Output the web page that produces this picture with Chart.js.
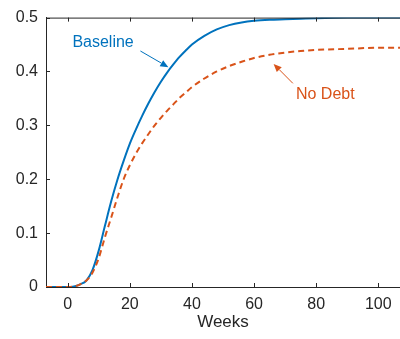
<!DOCTYPE html>
<html>
<head>
<meta charset="utf-8">
<script src="https://cdn.jsdelivr.net/npm/chart.js@4.4.1/dist/chart.umd.min.js"></script>
<style>
  html, body { margin: 0; padding: 0; background: #fff; }
</style>
</head>
<body>
<canvas id="chart1" width="400" height="339"></canvas>
<script>
// --- data ---
const weeks    = [-7, -4, -2, 0, 2, 4, 6, 8, 10, 12, 14, 16, 18, 20, 22, 24, 26, 28, 30, 32, 34, 36, 38, 40, 44, 48, 52, 56, 60, 65, 70, 75, 80, 90, 100, 107];
const baseline = [0, 0, 0, 0, 0.001, 0.005, 0.012, 0.032, 0.068, 0.114, 0.159, 0.199, 0.234, 0.266, 0.293, 0.318, 0.341, 0.362, 0.381, 0.398, 0.413, 0.427, 0.439, 0.45, 0.466, 0.478, 0.486, 0.491, 0.494, 0.496, 0.497, 0.498, 0.499, 0.5, 0.5, 0.5];
const noDebt   = [0, 0, 0, 0, 0.001, 0.005, 0.012, 0.027, 0.054, 0.093, 0.129, 0.166, 0.2, 0.226, 0.248, 0.267, 0.284, 0.3, 0.314, 0.327, 0.339, 0.351, 0.361, 0.371, 0.387, 0.4, 0.41, 0.418, 0.425, 0.431, 0.435, 0.438, 0.44, 0.442, 0.444, 0.444];
const xTicks = [0, 20, 40, 60, 80, 100];
const yTicks = [0, 0.1, 0.2, 0.3, 0.4, 0.5];

const BLUE = '#0072BD';
const ORANGE = '#D95319';
const AXIS = '#262626';
const FONT = '"Liberation Sans", Arial, Helvetica, sans-serif';

// text labels with arrows, in data coordinates (text anchored at its baseline)
const notes = [
  { text: 'Baseline', color: BLUE,   at: [1.5, 0.446],  from: [23.4, 0.438], to: [32.4, 0.408] },
  { text: 'No Debt',  color: ORANGE, at: [73.5, 0.349], from: [72.5, 0.378], to: [66.3, 0.414] }
];

// box top edge and inward tick marks
const boxTicks = {
  id: 'boxTicks',
  afterDraw(chart) {
    const { ctx, chartArea: a, scales: { x, y } } = chart;
    ctx.save();
    ctx.strokeStyle = AXIS;
    ctx.lineWidth = 1;
    ctx.beginPath();
    ctx.moveTo(a.left, a.top + 0.5);
    ctx.lineTo(a.right, a.top + 0.5);
    x.ticks.forEach(t => {
      const px = Math.round(x.getPixelForValue(t.value)) + 0.5;
      ctx.moveTo(px, a.bottom);
      ctx.lineTo(px, a.bottom - 4);
      ctx.moveTo(px, a.top);
      ctx.lineTo(px, a.top + 4);
    });
    y.ticks.forEach(t => {
      const py = Math.round(y.getPixelForValue(t.value)) + 0.5;
      ctx.moveTo(a.left, py);
      ctx.lineTo(a.left + 4, py);
    });
    ctx.stroke();
    ctx.restore();
  }
};

const arrowNotes = {
  id: 'arrowNotes',
  afterDraw(chart) {
    const { ctx, scales: { x, y } } = chart;
    ctx.save();
    notes.forEach(n => {
      ctx.fillStyle = n.color;
      ctx.strokeStyle = n.color;
      ctx.font = '16px ' + FONT;
      ctx.textAlign = 'left';
      ctx.textBaseline = 'alphabetic';
      ctx.fillText(n.text, x.getPixelForValue(n.at[0]), y.getPixelForValue(n.at[1]));

      const x0 = x.getPixelForValue(n.from[0]), y0 = y.getPixelForValue(n.from[1]);
      const x1 = x.getPixelForValue(n.to[0]),   y1 = y.getPixelForValue(n.to[1]);
      const ang = Math.atan2(y1 - y0, x1 - x0);
      const len = 8, half = 3.5;
      const bx = x1 - len * Math.cos(ang), by = y1 - len * Math.sin(ang);
      ctx.lineWidth = 1;
      ctx.beginPath();
      ctx.moveTo(x0, y0);
      ctx.lineTo(bx, by);
      ctx.stroke();
      ctx.beginPath();
      ctx.moveTo(x1, y1);
      ctx.lineTo(bx + half * Math.sin(ang), by - half * Math.cos(ang));
      ctx.lineTo(bx - half * Math.sin(ang), by + half * Math.cos(ang));
      ctx.closePath();
      ctx.fill();
    });
    ctx.restore();
  }
};

const whiteBg = {
  id: 'whiteBg',
  beforeDraw(chart) {
    const { ctx, width, height } = chart;
    ctx.save();
    ctx.fillStyle = '#fff';
    ctx.fillRect(0, 0, width, height);
    ctx.restore();
  }
};

const ctx1 = document.getElementById('chart1');

new Chart(ctx1, {
  type: 'line',
  data: {
    datasets: [
      {
        label: 'No Debt',
        data: weeks.map((w, i) => ({ x: w, y: noDebt[i] })),
        borderColor: ORANGE,
        borderWidth: 2,
        borderDash: [6, 4],
        pointRadius: 0,
        cubicInterpolationMode: 'monotone',
        fill: false,
        order: 1
      },
      {
        label: 'Baseline',
        data: weeks.map((w, i) => ({ x: w, y: baseline[i] })),
        borderColor: BLUE,
        borderWidth: 2,
        pointRadius: 0,
        cubicInterpolationMode: 'monotone',
        fill: false,
        order: 2
      }
    ]
  },
  options: {
    responsive: false,
    animation: false,
    layout: { padding: { top: 11, right: 0, left: 0, bottom: 0 } },
    plugins: {
      legend: { display: false },
      tooltip: { enabled: false }
    },
    scales: {
      x: {
        type: 'linear',
        min: -7,
        max: 107,
        afterBuildTicks: s => { s.ticks = xTicks.map(v => ({ value: v })); },
        afterFit: s => { s.height = 52; },
        grid: { drawOnChartArea: false, drawTicks: false },
        border: { color: AXIS, width: 1 },
        ticks: { color: AXIS, font: { family: FONT, size: 16 }, padding: 8, maxRotation: 0 },
        title: {
          display: true,
          text: 'Weeks',
          color: AXIS,
          font: { family: FONT, size: 17 },
          padding: { top: 0, bottom: 6 }
        }
      },
      y: {
        min: 0,
        max: 0.5,
        afterBuildTicks: s => { s.ticks = yTicks.map(v => ({ value: v })); },
        afterFit: s => { s.width = 46; },
        grid: { drawOnChartArea: false, drawTicks: false },
        border: { color: AXIS, width: 1 },
        ticks: {
          color: AXIS,
          font: { family: FONT, size: 16 },
          padding: 8,
          callback: v => String(+v.toFixed(1))
        }
      }
    }
  },
  plugins: [whiteBg, boxTicks, arrowNotes]
});
</script>
</body>
</html>
